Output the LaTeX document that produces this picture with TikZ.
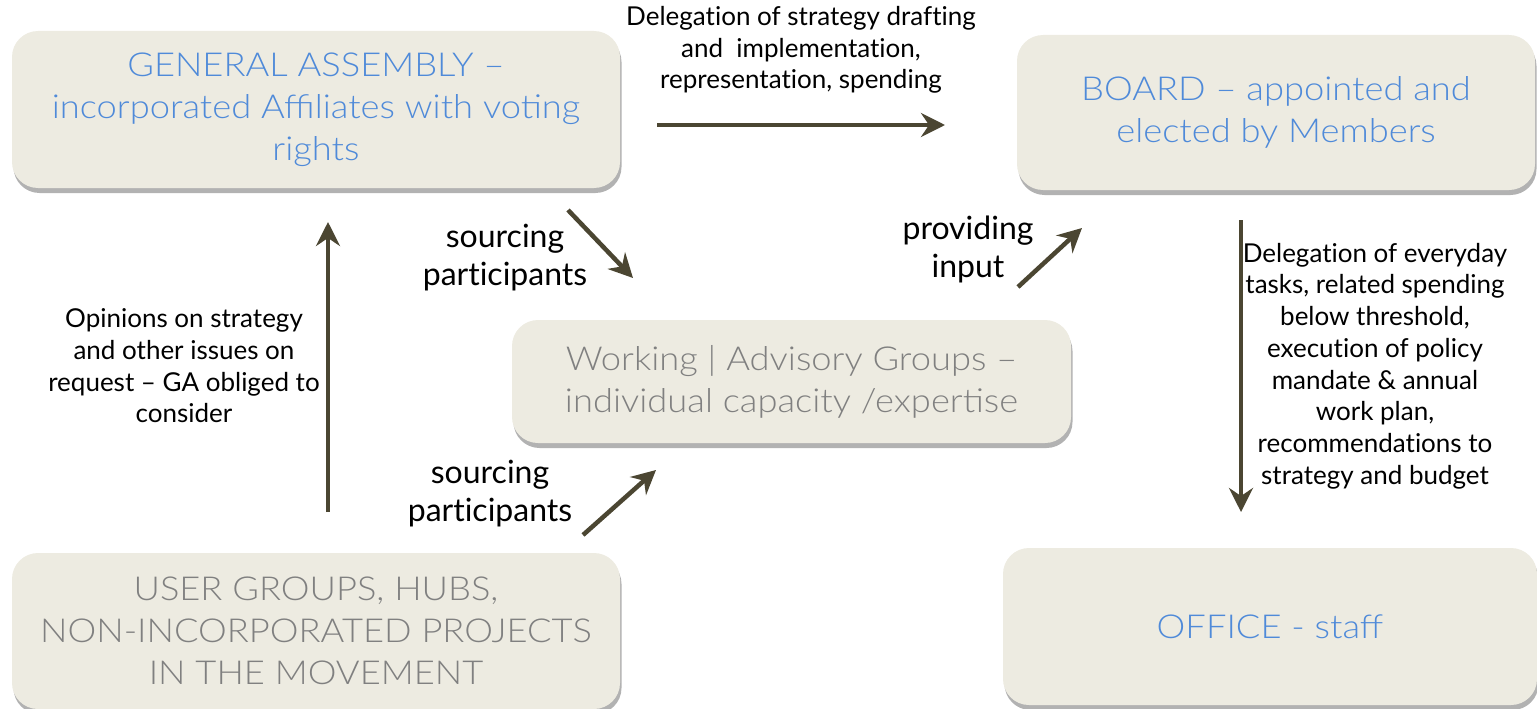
\documentclass[tikz,border=0pt]{standalone}
\usepackage{fontspec}
\setmainfont{Lato}[Ligatures=NoCommon]
\newfontfamily\boxfont[FakeStretch=1.1]{Lato Light}
\usetikzlibrary{arrows.meta,shadows}
\definecolor{boxfill}{HTML}{EDEBE1}
\definecolor{boxblue}{HTML}{4F8AD9}
\definecolor{boxgray}{HTML}{808080}
\definecolor{arrowc}{HTML}{4B4632}
\begin{document}
\begin{tikzpicture}[x=1pt,y=-1pt,
  box/.style={draw=none, fill=boxfill, rounded corners=26pt, inner sep=0pt, align=center,
    font=\boxfont\fontsize{33}{42}\selectfont,
    drop shadow={shadow xshift=1.5pt, shadow yshift=-5pt, opacity=0.3, fill=black}},
  bluebox/.style={box, text=boxblue},
  graybox/.style={box, text=boxgray},
  flow/.style={draw=arrowc, line width=4.5pt, -{Stealth[length=24pt,width=24pt,inset=8pt]}},
  lbl/.style={align=center, font=\fontsize{26}{31.7}\selectfont, text=black, inner sep=0pt},
  biglbl/.style={lbl, font=\fontsize{32}{38}\selectfont}]
\useasboundingbox (0,0) rectangle (1537,709);

% boxes
\node[bluebox, minimum width=608pt, minimum height=157pt] (ga) at (316,109.5)
  {GENERAL ASSEMBLY –\\incorporated Affiliates with voting\\rights};
\node[bluebox, minimum width=518pt, minimum height=155pt] (board) at (1276,112.5)
  {BOARD – appointed and\\elected by Members};
\node[graybox, minimum width=559pt, minimum height=123pt] (wg) at (791.5,381.5)
  {Working | Advisory Groups –\\individual capacity /expertise};
\node[graybox, minimum width=608pt, minimum height=156pt] (ug) at (316,631)
  {USER GROUPS, HUBS,\\NON-INCORPORATED PROJECTS\\IN THE MOVEMENT};
\node[bluebox, minimum width=534pt, minimum height=157pt] (office) at (1270,626.5)
  {OFFICE - staff};

% arrow end points
\coordinate (h1) at (657,125);
\coordinate (h2) at (945,125);
\coordinate (d1) at (568,210);
\coordinate (d2) at (633,278);
\coordinate (p1) at (1018,287);
\coordinate (p2) at (1082,228);
\coordinate (v1) at (1241,220);
\coordinate (v2) at (1241,512);
\coordinate (l1) at (328,512);
\coordinate (l2) at (328,222);
\coordinate (b1) at (583,535);
\coordinate (b2) at (656,470);

\draw[flow] (h1) -- (h2);
\draw[flow] (d1) -- (d2);
\draw[flow] (p1) -- (p2);
\draw[flow] (v1) -- (v2);
\draw[flow] (l1) -- (l2);
\draw[flow] (b1) -- (b2);

% labels
\node[lbl] (tdel) at (801,50)
  {Delegation of strategy drafting\\and \ implementation,\\representation, spending};
\node[biglbl] (tsrc1) at (505,258) {sourcing\\participants};
\node[biglbl] (tprov) at (968,249) {providing\\input};
\node[biglbl] (tsrc2) at (490,494) {sourcing\\participants};
\node[lbl] (topin) at (184,366)
  {Opinions on strategy\\and other issues on\\request – GA obliged to\\consider};
\node[lbl] (tday) at (1375,366)
  {Delegation of everyday\\tasks, related spending\\below threshold,\\execution of policy\\mandate \& annual\\work plan,\\recommendations to\\strategy and budget};
\end{tikzpicture}
\end{document}
